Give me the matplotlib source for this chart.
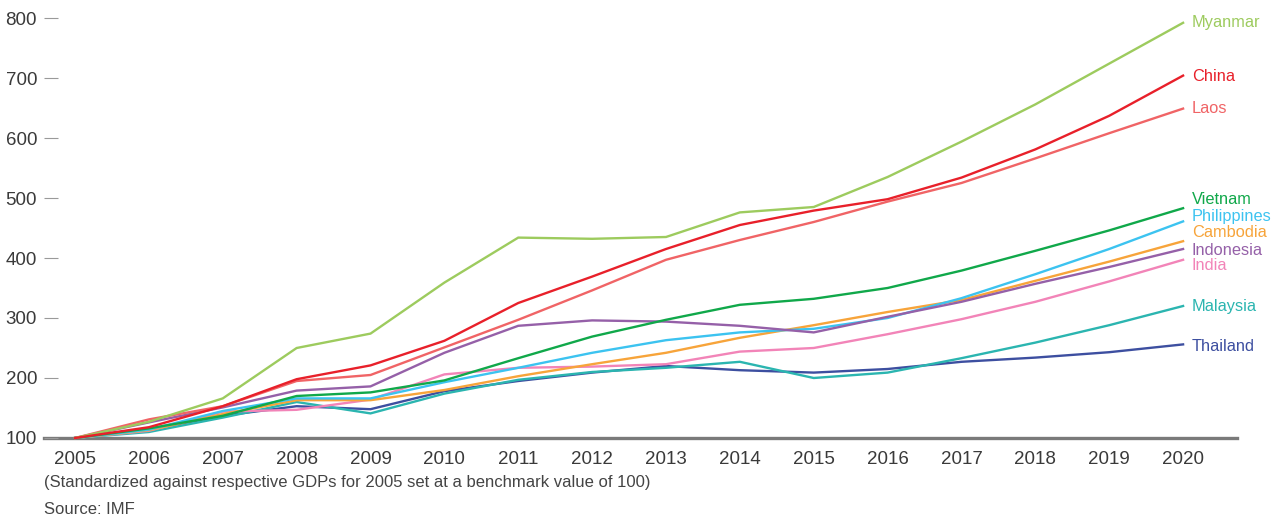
import matplotlib
matplotlib.use("Agg")
import matplotlib.pyplot as plt

years = list(range(2005, 2021))

myanmar     = [100, 127, 166, 250, 274, 359, 434, 432, 435, 476, 485, 535, 594, 656, 724, 792]
china       = [100, 118, 153, 198, 221, 262, 325, 369, 415, 455, 479, 498, 534, 581, 637, 704]
laos        = [100, 131, 153, 195, 205, 251, 297, 346, 397, 430, 460, 494, 525, 566, 608, 649]
vietnam     = [100, 116, 137, 170, 176, 196, 233, 269, 297, 322, 332, 350, 379, 412, 446, 483]
philippines = [100, 114, 145, 166, 166, 193, 217, 242, 263, 276, 282, 300, 333, 373, 415, 461]
cambodia    = [100, 113, 140, 163, 163, 180, 203, 223, 242, 267, 288, 310, 330, 362, 394, 428]
indonesia   = [100, 126, 151, 179, 186, 242, 287, 296, 294, 287, 276, 302, 327, 357, 385, 415]
india       = [100, 112, 144, 147, 164, 206, 217, 219, 223, 244, 250, 273, 298, 327, 361, 397]
malaysia    = [100, 110, 134, 160, 141, 174, 197, 210, 217, 227, 200, 209, 233, 259, 288, 320]
thailand    = [100, 114, 137, 153, 148, 178, 195, 209, 220, 213, 209, 215, 227, 234, 243, 256]

names  = ["Thailand", "Malaysia", "India", "Cambodia", "Philippines", "Indonesia",
          "Vietnam", "Laos", "Myanmar", "China"]
series = [thailand, malaysia, india, cambodia, philippines, indonesia,
          vietnam, laos, myanmar, china]
colors = ["#3d4fa0", "#2bb5b0", "#f284b8", "#f7a43a", "#3cc3f0", "#9560a8",
          "#10a84a", "#f06466", "#9dcb5e", "#e8202a"]
label_y = {"Myanmar": 793, "China": 703, "Laos": 650, "Vietnam": 498,
           "Philippines": 470, "Cambodia": 442, "Indonesia": 413, "India": 387,
           "Malaysia": 320, "Thailand": 253}

y_ticks = [100, 200, 300, 400, 500, 600, 700, 800]
footnote = "(Standardized against respective GDPs for 2005 set at a benchmark value of 100)"
source = "Source: IMF"

plt.rcParams["font.family"] = ["Liberation Sans", "DejaVu Sans"]

W, H = 1282, 521
fig = plt.figure(figsize=(W / 100, H / 100), dpi=100)
ax = fig.add_axes([44 / W, (H - 438) / H, (1237 - 44) / W, (438 - 18) / H])

for name, vals, c in zip(names, series, colors):
    ax.plot(years, vals, color=c, lw=1.7, clip_on=False, solid_joinstyle="miter")
    ax.text(2020.12, label_y[name], name, color=c, fontsize=11.8,
            va="center", ha="left")

ax.set_xlim(2004.58, 2020.73)
ax.set_ylim(100, 800)
ax.set_xticks(years)
ax.set_xticklabels([str(y) for y in years])
ax.set_yticks(y_ticks)

for s in ["left", "right", "top"]:
    ax.spines[s].set_visible(False)
ax.spines["bottom"].set_color("#7a7a7a")
ax.spines["bottom"].set_linewidth(2.4)
ax.spines["bottom"].set_zorder(0.5)

ax.tick_params(axis="x", length=0, pad=9, labelsize=13.5, labelcolor="#3a3a3a")
ax.tick_params(axis="y", direction="in", length=10, width=0.8, color="#9a9a9a",
               pad=5, labelsize=13.5, labelcolor="#3a3a3a")

fig.text(44 / W, 1 - 483 / H, footnote, fontsize=12, color="#444444",
         va="center", ha="left")
fig.text(44 / W, 1 - 509 / H, source, fontsize=12, color="#444444",
         va="center", ha="left")

fig.savefig("out.png", dpi=100)
